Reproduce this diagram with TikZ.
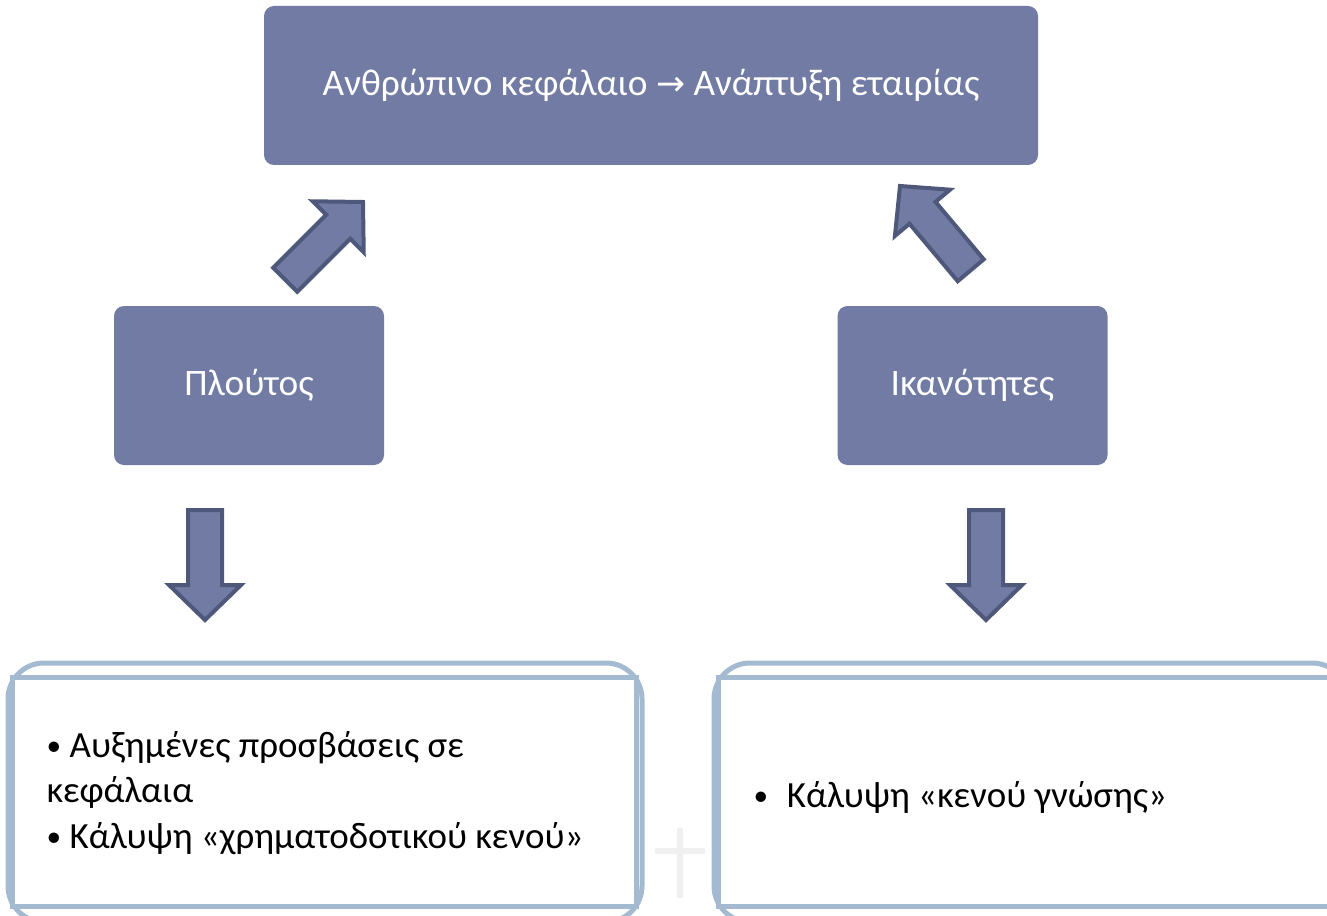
\documentclass[tikz,border=0pt]{standalone}
\usepackage{fontspec}
\setmainfont{Carlito}
\newfontfamily\arrowfont{DejaVu Sans}
\definecolor{boxfill}{RGB}{114,123,163}
\definecolor{arrowline}{RGB}{78,88,122}
\definecolor{paleline}{RGB}{163,186,209}
\newcommand\smallbullet{\raisebox{1.5pt}{\fontsize{22}{22}\selectfont •}}
\tikzset{
    darkbox/.style={fill=boxfill, rounded corners=7.5pt, text=white, font=\fontsize{28}{33}\selectfont},
    listbox/.style={draw=paleline, line width=3.75pt, fill=white, minimum width=468pt, minimum height=171.75pt},
    roundframe/.style={draw=paleline, line width=3.75pt, rounded corners=27pt},
    blockarrow/.style={fill=boxfill, draw=arrowline, line width=3pt, line join=miter},
    listtext/.style={font=\fontsize{27.7}{34}\selectfont, align=left, anchor=west}
}
\newcommand\blockarrow[2]{\filldraw[blockarrow, shift={(#1)}, rotate=#2](-110, -17)--(-35, -17)--(-35, -36)--(0, 0)--(-35, 36)--(-35, 17)--(-110, 17)--cycle;}
\begin{document}
\begin{tikzpicture}[x=.75pt, y=-.75pt]
    \useasboundingbox(0, 0) rectangle (1327, 916);
    \clip(0, 0) rectangle (1327, 916);
    \node[darkbox, minimum width=580.5pt, minimum height=119.25pt](capital) at(651, 85.5){Ανθρώπινο κεφάλαιο {\arrowfont\fontsize{26}{26}\selectfont →} Ανάπτυξη εταιρίας};
    \node[darkbox, minimum width=202.5pt, minimum height=119.25pt](wealth) at(249, 385.5){Πλούτος};
    \node[darkbox, minimum width=202.5pt, minimum height=119.25pt](skills) at(972.5, 385.5){Ικανότητες};
    \blockarrow{363, 202}{45}
    \blockarrow{900, 186}{130}
    \blockarrow{205, 620}{-90}
    \blockarrow{986, 620}{-90}
    \draw[roundframe](8, 663) rectangle (642, 922);
    \draw[roundframe](714, 663) rectangle (1348, 922);
    \node[listbox](wealthlist) at(324, 791.5){};
    \node[listbox](skillslist) at(1030, 791.5){};
    \node[listtext](wealthitems) at(42, 793){\smallbullet\ Αυξημένες προσβάσεις σε\\κεφάλαια\\\smallbullet\ Κάλυψη «χρηματοδοτικού κενού»};
    \node[listtext](skillsitems) at(749, 797){\smallbullet\hspace{14pt}Κάλυψη «κενού γνώσης»};
    \draw[black!6, line width=4.5pt](680, 828)--(680, 898)(655, 851)--(705, 851);
\end{tikzpicture}
\end{document}
